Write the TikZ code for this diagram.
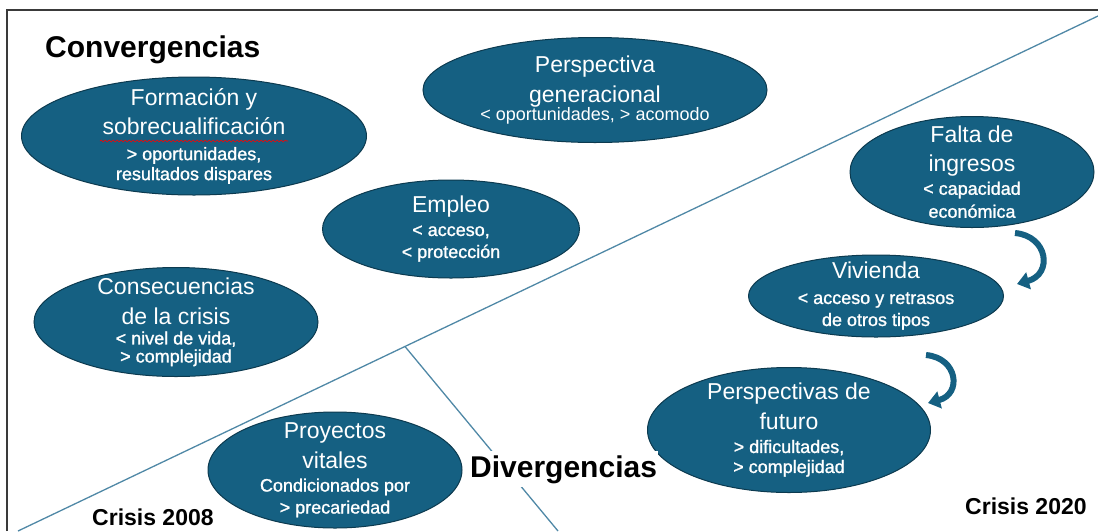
\documentclass[tikz,border=0pt]{standalone}
\usepackage{fontspec}
\setmainfont{Liberation Sans}
\newfontfamily\semib[FakeBold=1.2]{Liberation Sans}
\usepackage{xcolor}
\usetikzlibrary{shapes.geometric,arrows.meta,decorations.pathmorphing}

\definecolor{bubblefill}{HTML}{156082}
\definecolor{bubbleedge}{HTML}{0C3A4F}
\definecolor{divline}{HTML}{4F88A6}
\definecolor{framegray}{HTML}{3A3A3A}

\newcommand{\ttl}{\normalfont\fontsize{23}{28}\selectfont}
\newcommand{\subfont}{\semib\fontsize{18}{21}\selectfont\lineskiplimit-100pt\relax}

\begin{document}
\begin{tikzpicture}[
    x=1pt,
    y=-1pt,
    bubble/.style={
        ellipse,
        fill=bubblefill,
        draw=bubbleedge,
        line width=1pt,
        text=white,
        align=center,
        inner xsep=-80pt,
        inner ysep=-80pt,
        font=\subfont
    },
    headline/.style={
        font=\bfseries\fontsize{30}{36}\selectfont,
        inner sep=0pt
    },
    crisis/.style={
        font=\bfseries\fontsize{23}{28}\selectfont,
        inner sep=0pt
    },
    divider/.style={
        divline,
        line width=1.3pt
    },
    turn/.style={
        bubblefill,
        line width=6pt,
        -{Triangle[width=17pt,length=12pt]}
    }
]

\useasboundingbox (0,0) rectangle (1098,531);


\draw[framegray, line width=1.5pt] (7,531) -- (7,10) -- (1098,10);


\coordinate (lineStart) at (18,531);
\coordinate (lineEnd) at (1098,16);
\draw[divider] (lineStart) -- coordinate[pos=0.3583] (forkA) (lineEnd);

\coordinate (forkB) at (558,531);
\draw[divider] (forkA) -- (forkB);




\node[bubble, minimum width=345pt, minimum height=118pt] (formacion) at (194,136)
    {\ttl Formación y\\[8pt]
     \ttl sobrecualificación\\[5pt]
     > oportunidades,\\[-1pt]
     resultados dispares};

\draw[red, line width=0.6pt, decorate,
      decoration={snake, amplitude=0.9pt, segment length=4pt}]
    (100,141) -- (288,141);

\node[bubble, minimum width=344pt, minimum height=105pt] (generacional) at (595,90)
    {\ttl Perspectiva\\[9pt]
     \ttl generacional\\[-3pt]
     \normalfont < oportunidades, > acomodo};

\node[bubble, minimum width=257pt, minimum height=98pt] (empleo) at (451,229)
    {\ttl Empleo\\[2pt]
     < acceso,\\[1pt]
     < protección};

\node[bubble, minimum width=284pt, minimum height=109pt] (consecuencias) at (176,322)
    {\ttl Consecuencias\\[9pt]
     \ttl de la crisis\\[-1pt]
     < nivel de vida,\\[-3pt]
     > complejidad};

\node[bubble, minimum width=254pt, minimum height=116pt] (proyectos) at (335,470)
    {\ttl Proyectos\\[9pt]
     \ttl vitales\\[2pt]
     Condicionados por\\[1pt]
     > precariedad};

\node[bubble, minimum width=244pt, minimum height=111pt] (ingresos) at (972,172)
    {\ttl Falta de\\[8pt]
     \ttl ingresos\\[2pt]
     < capacidad\\[2pt]
     económica};

\node[bubble, minimum width=255pt, minimum height=82pt] (vivienda) at (876,296)
    {\ttl Vivienda\\[4pt]
     < acceso y retrasos\\[1pt]
     de otros tipos};

\node[bubble, minimum width=283pt, minimum height=125pt] (futuro) at (789,430)
    {\ttl Perspectivas de\\[9pt]
     \ttl futuro\\[2pt]
     > dificultades,\\[-1pt]
     > complejidad};


% curved arrows between the right-hand bubbles
\coordinate (turnA1) at (1015,233);
\coordinate (turnA2) at (1017,284);
\draw[turn] (turnA1) .. controls (1048,236) and (1053,274) .. (turnA2);

\coordinate (turnB1) at (926,355);
\coordinate (turnB2) at (928,403);
\draw[turn] (turnB1) .. controls (958,358) and (962,394) .. (turnB2);


\node[headline, anchor=base west] (convLbl) at (45,57) {Convergencias};
\node[headline, anchor=base west, fill=white, inner xsep=1pt, inner ysep=4pt] (divLbl) at (469,477) {Divergencias};

\node[crisis, anchor=base west] (crisisOld) at (92,525) {Crisis 2008};
\node[crisis, anchor=base west] (crisisNew) at (965,514) {Crisis 2020};

\end{tikzpicture}
\end{document}
